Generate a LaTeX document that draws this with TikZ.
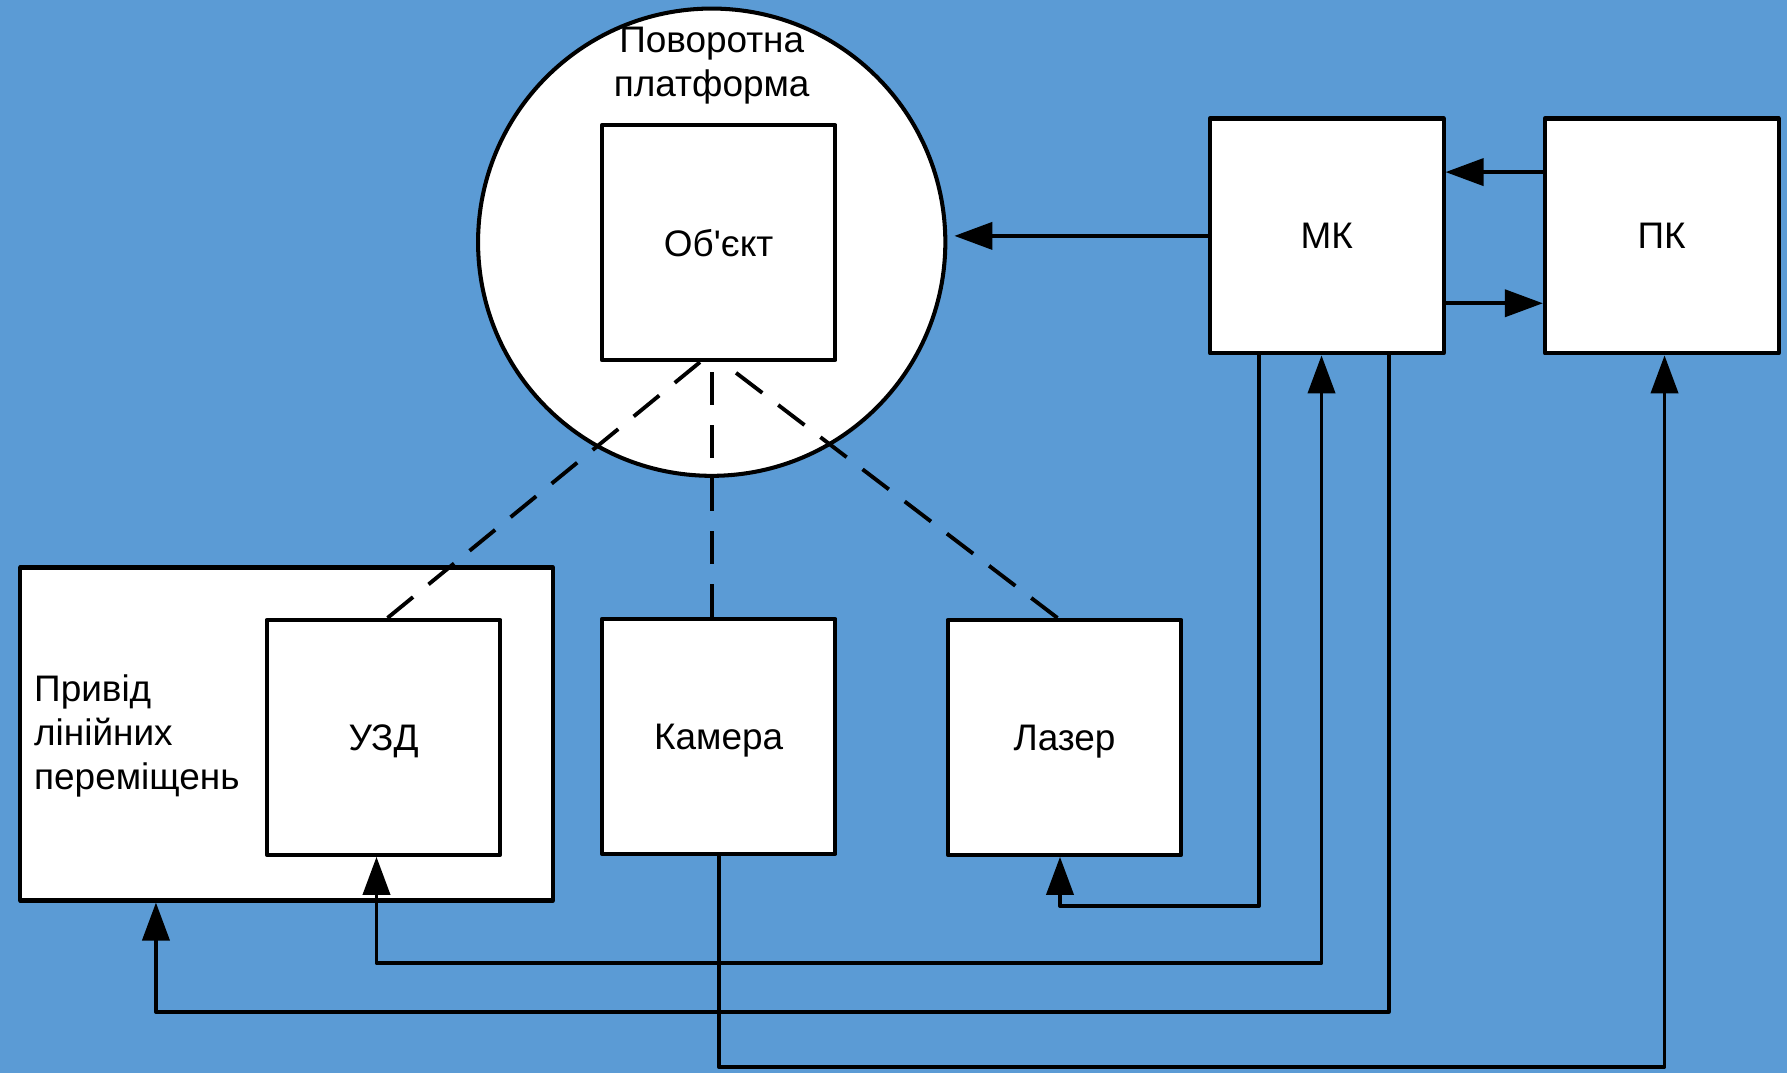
\documentclass[tikz,border=0pt]{standalone}
\usepackage{fontspec}
\setmainfont{Liberation Sans}
\usetikzlibrary{arrows.meta}
\definecolor{bgblue}{HTML}{5B9BD5}

\begin{document}
\begin{tikzpicture}[x=0.01cm, y=-0.01cm,
  every node/.style={font=\fontsize{10.5pt}{12.52pt}\selectfont, inner sep=0pt},
  block/.style={draw, fill=white, line width=1.15pt, line join=round, text depth=0pt,
                minimum width=2.335cm, minimum height=2.347cm},
  link/.style={line width=1.1pt, line join=round},
  arr/.style={link, -{Triangle[length=0.38cm, width=0.27cm]}},
  biarr/.style={link, {Triangle[length=0.38cm, width=0.27cm]}-{Triangle[length=0.38cm, width=0.27cm]}},
  sight/.style={link, dash pattern=on 0.33cm off 0.2cm}]

  % canvas
  \fill[bgblue] (0,0) rectangle (1787,1073);
  \useasboundingbox (0,0) rectangle (1787,1073);

  % rotating platform with the object on it
  \node[circle, draw, fill=white, line width=1.15pt, minimum size=4.67cm] (plat) at (711.7,242.2) {};
  \node[anchor=north, align=center] (platlbl) at (711.7,26.8) {Поворотна\\платформа};
  \node[block] (obj) at (718.6,242.7) {Об\textquotesingle єкт};

  % linear drive carrying the ultrasonic sensor
  \node[block, minimum width=5.323cm, minimum height=3.328cm] (drive) at (286.7,734) {};
  \node[anchor=north west, align=left] (drivelbl) at (33.5,674.2) {Привід\\лінійних\\переміщень};
  \node[block] (uzd) at (383.5,737.4) {УЗД};

  % sensors
  \node[block] (cam) at (718.6,736.3) {Камера};
  \node[block] (laser) at (1064.5,737.4) {Лазер};

  % controllers
  \node[block] (mk) at (1326.7,235.9) {МК};
  \node[block] (pc) at (1661.7,235.9) {ПК};

  % wiring levels and pins
  \coordinate (busL) at (0,906);
  \coordinate (busU) at (0,963);
  \coordinate (busD) at (0,1012);
  \coordinate (busC) at (0,1066.8);
  \coordinate (mkA) at ([xshift=0.51cm]mk.south west);
  \coordinate (mkB) at ([xshift=1.136cm]mk.south west);
  \coordinate (mkC) at ([xshift=1.806cm]mk.south west);
  \coordinate (lasin) at ([xshift=-0.045cm]laser.south);
  \coordinate (uzdin) at ([xshift=-0.07cm]uzd.south);
  \coordinate (drivein) at ([xshift=1.375cm]drive.south west);
  \coordinate (pcin) at ([xshift=1.216cm]pc.south west);

  % control links
  \draw[arr, shorten >=0.07cm] (mk.west) -- (mk.west -| plat.east);
  \draw[arr] ([yshift=-0.556cm]pc.north west) -- ([yshift=-0.556cm]mk.north east);
  \draw[arr] ([yshift=-1.867cm]mk.north east) -- ([yshift=-1.867cm]pc.north west);
  \draw[arr] (mkA) |- (busL -| lasin) -- (lasin);
  \draw[biarr] (uzdin) |- (busU -| mkB) -- (mkB);
  \draw[arr] (mkC) |- (busD -| drivein) -- (drivein);
  \draw[arr] (cam.south) |- (busC -| pcin) -- (pcin);

  % lines of sight to the object
  \draw[sight] ([xshift=0.04cm]uzd.north) -- ([xshift=-0.186cm]obj.south);
  \draw[sight] ([xshift=-0.066cm]cam.north) -- ([xshift=-0.066cm]cam.north |- obj.south);
  \draw[sight] ([xshift=-0.07cm]laser.north) -- ([xshift=0.034cm]obj.south);
\end{tikzpicture}
\end{document}
